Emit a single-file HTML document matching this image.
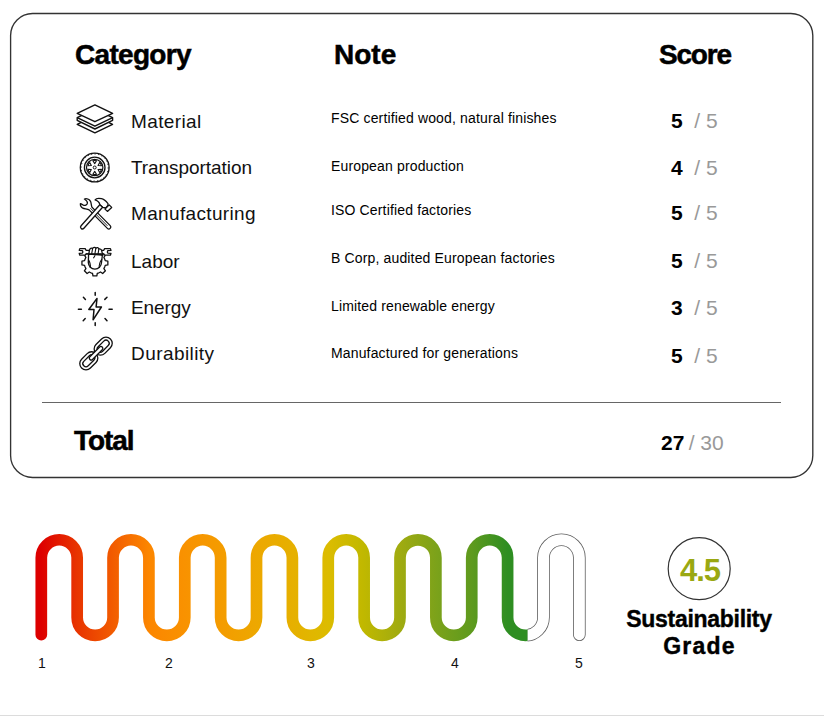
<!DOCTYPE html>
<html><head><meta charset="utf-8">
<style>
html,body{margin:0;padding:0;background:#fff;}
body{width:824px;height:716px;position:relative;overflow:hidden;font-family:"Liberation Sans",sans-serif;color:#000;}
.abs{position:absolute;white-space:nowrap;line-height:1;}
.h{font-weight:bold;font-size:28px;-webkit-text-stroke:0.5px #000;}
.cat{font-size:19px;color:#111;}
.note{font-size:14px;color:#000;letter-spacing:0.15px;}
.sc{font-size:21px;}
.sc b{font-weight:bold;color:#000;}
.sc span{color:#999;}
.num{font-size:14px;color:#111;}
.bottom{position:absolute;left:0;top:715px;width:824px;height:1px;background:#dcdcdc;}
</style></head><body>
<svg style="position:absolute;left:0;top:0;" width="824" height="480"><rect x="10.6" y="13.5" width="802.2" height="464" rx="22" ry="22" fill="none" stroke="#333" stroke-width="1.35"/></svg>
<div class="abs h" style="left:75px;top:41px;letter-spacing:-0.7px;">Category</div>
<div class="abs h" style="left:334px;top:41px;">Note</div>
<div class="abs h" style="left:659px;top:41px;letter-spacing:-1.2px;">Score</div>

<div class="abs cat" style="left:131px;top:112px;letter-spacing:0.38px;">Material</div>
<div class="abs cat" style="left:131px;top:158px;letter-spacing:-0.06px;">Transportation</div>
<div class="abs cat" style="left:131px;top:204px;letter-spacing:0.35px;">Manufacturing</div>
<div class="abs cat" style="left:131px;top:252px;letter-spacing:0.02px;">Labor</div>
<div class="abs cat" style="left:131px;top:298px;letter-spacing:-0.1px;">Energy</div>
<div class="abs cat" style="left:131px;top:344px;letter-spacing:0.43px;">Durability</div>

<div class="abs note" style="left:331px;top:111px;">FSC certified wood, natural finishes</div>
<div class="abs note" style="left:331px;top:159px;">European production</div>
<div class="abs note" style="left:331px;top:203px;">ISO Certified factories</div>
<div class="abs note" style="left:331px;top:251px;">B Corp, audited European factories</div>
<div class="abs note" style="left:331px;top:299px;">Limited renewable energy</div>
<div class="abs note" style="left:331px;top:346px;">Manufactured for generations</div>

<div class="abs sc" style="left:671px;top:110px;"><b>5</b><span>&nbsp; / 5</span></div>
<div class="abs sc" style="left:671px;top:157px;"><b>4</b><span>&nbsp; / 5</span></div>
<div class="abs sc" style="left:671px;top:202px;"><b>5</b><span>&nbsp; / 5</span></div>
<div class="abs sc" style="left:671px;top:250px;"><b>5</b><span>&nbsp; / 5</span></div>
<div class="abs sc" style="left:671px;top:297px;"><b>3</b><span>&nbsp; / 5</span></div>
<div class="abs sc" style="left:671px;top:345px;"><b>5</b><span>&nbsp; / 5</span></div>


<svg style="position:absolute;left:72px;top:100px;" width="46" height="40" viewBox="0 0 46 40">
<g fill="#fff" stroke="#111" stroke-width="1.4" stroke-linejoin="round">
<path d="M5.2,24.3 L22.9,15.6 L40.6,24.3 L22.9,32.9 Z"/>
<path d="M5.2,17.6 L5.2,20.3 L22.9,29 L40.6,20.3 L40.6,17.6 L22.9,9 Z"/>
<path d="M5.2,17.6 L22.9,26.2 L40.6,17.6" fill="none"/>
<path d="M5.2,13.4 L22.9,4.9 L40.6,13.4 L22.9,21.7 Z"/>
</g></svg>

<svg style="position:absolute;left:74px;top:148px;" width="40" height="40" viewBox="0 0 40 40">
<g fill="none" stroke="#111">
<circle cx="20.7" cy="19.5" r="14.4" stroke-width="1.3"/>
<circle cx="20.7" cy="19.5" r="13.5" stroke-width="0.9" stroke-dasharray="1.2 2.3"/>
<circle cx="20.7" cy="19.5" r="10.3" stroke-width="1.3"/>
<circle cx="20.7" cy="19.5" r="8.2" stroke-width="1.2"/>
<circle cx="20.7" cy="19.5" r="1.5" stroke-width="1"/>
<path d="M20.70,15.60 L18.89,12.74 A7.0,7.0 0 0 1 22.51,12.74 Z M24.08,17.55 L25.65,14.55 A7.0,7.0 0 0 1 27.46,17.69 Z M24.08,21.45 L27.46,21.31 A7.0,7.0 0 0 1 25.65,24.45 Z M20.70,23.40 L22.51,26.26 A7.0,7.0 0 0 1 18.89,26.26 Z M17.32,21.45 L15.75,24.45 A7.0,7.0 0 0 1 13.94,21.31 Z M17.32,17.55 L13.94,17.69 A7.0,7.0 0 0 1 15.75,14.55 Z" stroke-width="1.1" stroke-linejoin="round"/>
</g></svg>

<svg style="position:absolute;left:74px;top:194px;" width="40" height="40" viewBox="0 0 40 40">
<g fill="#fff" stroke="#111" stroke-width="1.3" stroke-linejoin="round">
<path d="M10.4,5.0 C12.5,4.4 15.5,5 16.6,7.6 C17.3,9.2 17.2,11 17.9,13.1 L36.2,31.6 A1.98,1.98 0 0 1 33.4,34.4 L15.1,15.9 C13.5,14.8 10.5,15 8.8,14.2 C7,13.2 6.2,11.5 6.4,9.6 C7.5,9.6 8.3,10.6 9.4,11.2 C11,11.9 13,11 13.4,9.2 C13.6,7.6 12.4,6.3 10.4,5.0 Z"/>
<path d="M22.6,20.9 L33.4,31.8 M16.4,14.2 L19.2,17 M17.8,12.9 L20.4,15.6" fill="none" stroke-width="0.9"/>
<path d="M21.1,5.9 C22,4.5 25,4.2 27.5,4.7 C30,5.2 32,7.2 34,9.6 L33.9,11.5 L31.8,14 L28.6,13.3 L25.8,10.7 C25.6,8.8 24.4,7 21.1,5.9 Z"/>
<path d="M35.2,10.9 L37.7,13.4 L33.4,17.4 L31,15.1 Z"/>
<path d="M28.6,13.3 L9.9,34.3 A1.9,1.9 0 0 1 7.1,31.7 L25.8,10.7 Z"/>
</g></svg>

<svg style="position:absolute;left:74px;top:241px;" width="40" height="40" viewBox="0 0 40 40">
<g fill="#fff" stroke="#111" stroke-width="1.3" stroke-linejoin="round">
<path d="M30.69,17.94 L31.23,19.62 L33.86,20.06 L33.86,23.94 L31.23,24.38 L30.69,26.06 L29.89,27.62 L31.43,29.79 L28.69,32.53 L26.52,30.99 L24.96,31.79 L23.28,32.33 L22.84,34.96 L18.96,34.96 L18.52,32.33 L16.84,31.79 L15.28,30.99 L13.11,32.53 L10.37,29.79 L11.91,27.62 L11.11,26.06 L10.57,24.38 L7.94,23.94 L7.94,20.06 L10.57,19.62 L11.11,17.94 L11.91,16.38 L10.37,14.21 L13.11,11.47 L15.28,13.01 L16.84,12.21 L18.52,11.67 L18.96,9.04 L22.84,9.04 L23.28,11.67 L24.96,12.21 L26.52,13.01 L28.69,11.47 L31.43,14.21 L29.89,16.38 Z"/>
<path d="M5.8,7.6 L11.2,7.6 L12,9.3 L29.8,9.3 L30.6,7.6 L36.4,7.6 L37,9.4 L34,9.6 C33.2,10.2 33.2,11.6 34,12.2 L37,12.4 L36.4,14.2 L30.6,14.2 L29.8,12.9 L12,12.9 L11.2,14.2 L5.8,14.2 L5.2,12.4 L8.2,12.2 C9,11.6 9,10.2 8.2,9.6 L5.2,9.4 Z"/>
<path d="M14.6,13.2 L14.3,21.5 C14.5,25.4 17.3,28.2 20.9,28.2 C24.5,28.2 27.3,25.4 27.5,21.5 L28.4,14 Z"/>
<path d="M14.3,18.5 C15.8,20.5 16.6,24 16.4,27 M28,18 C26.4,20 25,24 25.3,27" fill="none" stroke-width="1.1"/>
<path d="M14.8,13.2 L15.4,9.4 C15.7,7.4 17.6,6.6 18.6,7.6 C19.2,6.2 21.2,6 21.9,7.2 C22.8,6.2 24.6,6.6 24.9,8 C26,7.6 27.6,8.4 27.7,9.8 L28.8,14.4 L26.6,13.3 L15,13.3 Z"/>
<path d="M18.6,7.6 L17.6,13.2 M21.9,7.2 L20.8,13.2 M24.9,8 L24,13.2 M12,12.9 L29.8,12.9 M19.4,17.2 L21.2,14.2" fill="none" stroke-width="1.1"/>
</g></svg>

<svg style="position:absolute;left:74px;top:288px;" width="40" height="40" viewBox="0 0 40 40">
<g fill="none" stroke="#111" stroke-width="1.5" stroke-linecap="round" stroke-linejoin="round">
<path d="M21.2,4.6 V7.2 M21.2,34.8 V37.6 M4.4,21.2 H7.4 M35,21.2 H38.2 M9.4,9.2 L11.4,11.4 M33,9.2 L30.8,11.4 M11.2,30.6 L9.2,32.8 M31,30.6 L33,32.8"/>
<path d="M23,10.4 L14.8,21.5 L20,21.5 L19.1,31.8 L27.4,19 L22.1,19 Z"/>
</g></svg>

<svg style="position:absolute;left:74px;top:334px;" width="40" height="40" viewBox="0 0 40 40">
<g fill="#fff" stroke="#111" stroke-width="1.3">
<g transform="rotate(-45 29.2 12.15)">
<rect x="19" y="5.9" width="20.4" height="12.5" rx="6.25"/>
<rect x="22.1" y="9" width="14.2" height="6.3" rx="3.15"/>
</g>
<g transform="rotate(-45 14.8 26.8)">
<rect x="4.6" y="20.55" width="20.4" height="12.5" rx="6.25"/>
<rect x="7.7" y="23.65" width="14.2" height="6.3" rx="3.15"/>
</g>
<g transform="rotate(-45 22.05 19.25)">
<rect x="13.3" y="17.4" width="17.5" height="3.7" rx="1.85"/>
</g>
</g></svg>

<div style="position:absolute;left:42px;top:402px;width:739px;height:1px;background:#666;"></div>
<div class="abs h" style="left:74px;top:427px;letter-spacing:-1.1px;">Total</div>
<div class="abs sc" style="left:661px;top:432px;"><b>27</b><span style="margin-left:-1.5px;"> / 30</span></div>

<svg style="position:absolute;left:0;top:0;" width="824" height="716" viewBox="0 0 824 716">
<defs>
<linearGradient id="g" gradientUnits="userSpaceOnUse" x1="35" y1="0" x2="586" y2="0">
<stop offset="0.011" stop-color="#dd0000"/>
<stop offset="0.076" stop-color="#e83400"/>
<stop offset="0.142" stop-color="#f25c00"/>
<stop offset="0.207" stop-color="#fc8600"/>
<stop offset="0.272" stop-color="#f99200"/>
<stop offset="0.338" stop-color="#f49c00"/>
<stop offset="0.403" stop-color="#eda800"/>
<stop offset="0.468" stop-color="#e6b000"/>
<stop offset="0.532" stop-color="#dcbc00"/>
<stop offset="0.597" stop-color="#c0b800"/>
<stop offset="0.662" stop-color="#a0ab10"/>
<stop offset="0.728" stop-color="#7ca21a"/>
<stop offset="0.793" stop-color="#5e9a1e"/>
<stop offset="0.858" stop-color="#2e8e22"/>
</linearGradient>
<clipPath id="cl"><rect x="0" y="500" width="527.5" height="160"/></clipPath>
<clipPath id="cr"><rect x="527.5" y="500" width="100" height="160"/></clipPath>
</defs>
<g clip-path="url(#cr)">
<path d="M41.30,634.7 V557.7 A17.935,17.935 0 0 1 77.17,557.7 V617.4 A17.935,17.935 0 0 0 113.04,617.4 V557.7 A17.935,17.935 0 0 1 148.91,557.7 V617.4 A17.935,17.935 0 0 0 184.78,617.4 V557.7 A17.935,17.935 0 0 1 220.65,557.7 V617.4 A17.935,17.935 0 0 0 256.52,617.4 V557.7 A17.935,17.935 0 0 1 292.39,557.7 V617.4 A17.935,17.935 0 0 0 328.26,617.4 V557.7 A17.935,17.935 0 0 1 364.13,557.7 V617.4 A17.935,17.935 0 0 0 400.00,617.4 V557.7 A17.935,17.935 0 0 1 435.87,557.7 V617.4 A17.935,17.935 0 0 0 471.74,617.4 V557.7 A17.935,17.935 0 0 1 507.61,557.7 V617.4 A17.935,17.935 0 0 0 543.48,617.4 V557.7 A17.935,17.935 0 0 1 579.35,557.7 V634.7" fill="none" stroke="#606060" stroke-width="12.6" stroke-linecap="round"/>
<path d="M41.30,634.7 V557.7 A17.935,17.935 0 0 1 77.17,557.7 V617.4 A17.935,17.935 0 0 0 113.04,617.4 V557.7 A17.935,17.935 0 0 1 148.91,557.7 V617.4 A17.935,17.935 0 0 0 184.78,617.4 V557.7 A17.935,17.935 0 0 1 220.65,557.7 V617.4 A17.935,17.935 0 0 0 256.52,617.4 V557.7 A17.935,17.935 0 0 1 292.39,557.7 V617.4 A17.935,17.935 0 0 0 328.26,617.4 V557.7 A17.935,17.935 0 0 1 364.13,557.7 V617.4 A17.935,17.935 0 0 0 400.00,617.4 V557.7 A17.935,17.935 0 0 1 435.87,557.7 V617.4 A17.935,17.935 0 0 0 471.74,617.4 V557.7 A17.935,17.935 0 0 1 507.61,557.7 V617.4 A17.935,17.935 0 0 0 543.48,617.4 V557.7 A17.935,17.935 0 0 1 579.35,557.7 V634.7" fill="none" stroke="#fff" stroke-width="11" stroke-linecap="round"/>
</g>
<g clip-path="url(#cl)">
<path d="M41.30,634.7 V557.7 A17.935,17.935 0 0 1 77.17,557.7 V617.4 A17.935,17.935 0 0 0 113.04,617.4 V557.7 A17.935,17.935 0 0 1 148.91,557.7 V617.4 A17.935,17.935 0 0 0 184.78,617.4 V557.7 A17.935,17.935 0 0 1 220.65,557.7 V617.4 A17.935,17.935 0 0 0 256.52,617.4 V557.7 A17.935,17.935 0 0 1 292.39,557.7 V617.4 A17.935,17.935 0 0 0 328.26,617.4 V557.7 A17.935,17.935 0 0 1 364.13,557.7 V617.4 A17.935,17.935 0 0 0 400.00,617.4 V557.7 A17.935,17.935 0 0 1 435.87,557.7 V617.4 A17.935,17.935 0 0 0 471.74,617.4 V557.7 A17.935,17.935 0 0 1 507.61,557.7 V617.4 A17.935,17.935 0 0 0 543.48,617.4 V557.7 A17.935,17.935 0 0 1 579.35,557.7 V634.7" fill="none" stroke="url(#g)" stroke-width="11.7" stroke-linecap="round"/>
</g>
<circle cx="699.2" cy="568.7" r="31" fill="none" stroke="#333" stroke-width="1.2"/>
</svg>
<div class="abs num" style="left:38px;top:656px;">1</div>
<div class="abs num" style="left:165px;top:656px;">2</div>
<div class="abs num" style="left:307px;top:656px;">3</div>
<div class="abs num" style="left:451px;top:656px;">4</div>
<div class="abs num" style="left:575px;top:656px;">5</div>

<div class="abs" style="left:680px;top:555px;font-size:31px;letter-spacing:-1px;font-weight:bold;color:#9aa812;">4.5</div>
<div class="abs" style="left:599px;top:606px;width:200px;text-align:center;font-size:23px;font-weight:bold;line-height:26.6px;white-space:normal;-webkit-text-stroke:0.4px #000;"><span style="letter-spacing:-0.3px;">Sustainability</span><br><span style="letter-spacing:1.2px;margin-left:1px;">Grade</span></div>

<div class="bottom"></div>
</body></html>
